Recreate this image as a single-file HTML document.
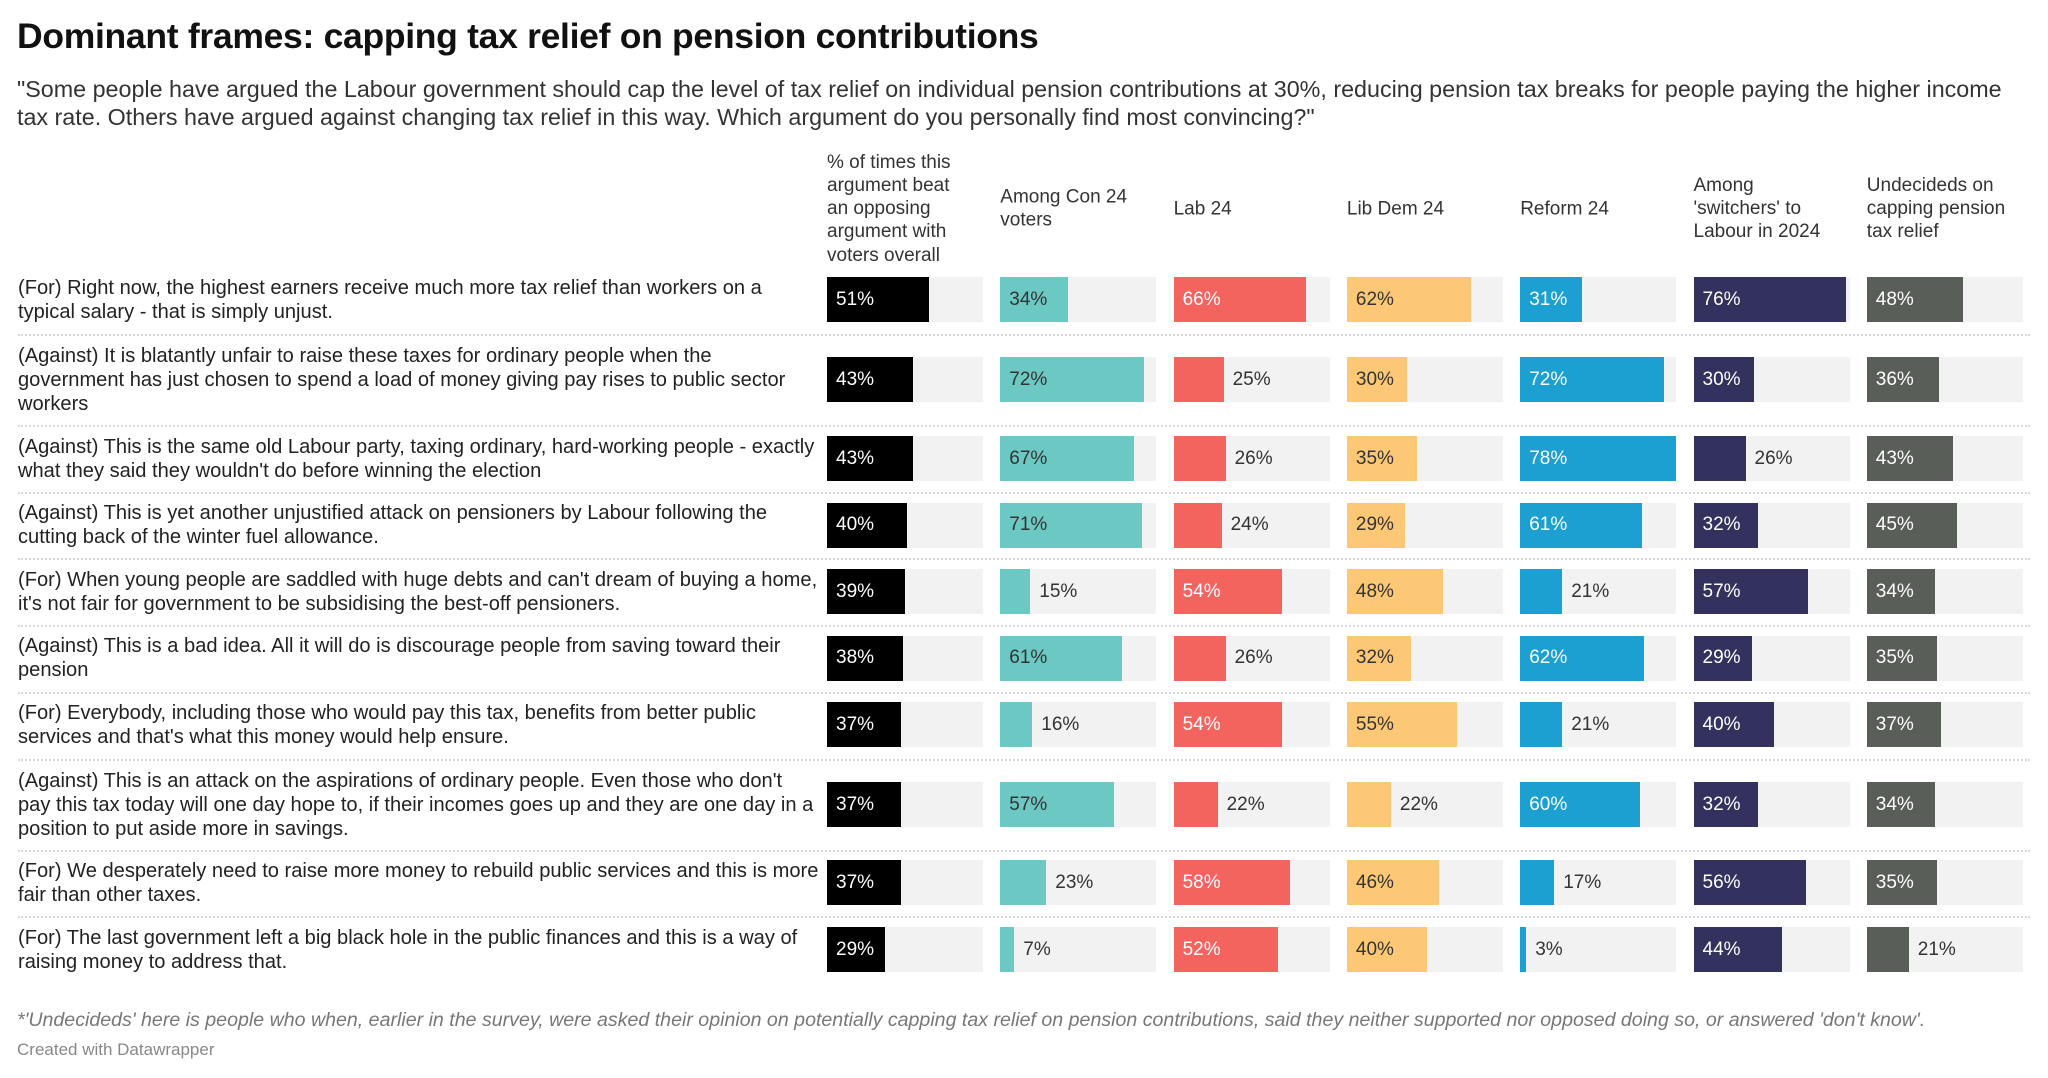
<!DOCTYPE html>
<html><head><meta charset="utf-8"><style>
body{margin:0;width:2048px;height:1078px;background:#fff;font-family:"Liberation Sans",Arial,sans-serif;color:#222;overflow:hidden;position:relative}
.abs{position:absolute}
#title{left:17px;top:16px;font-size:35.5px;font-weight:bold;color:#111;letter-spacing:-0.3px}
#sub{left:17px;top:76px;font-size:23.3px;line-height:27.5px;color:#333;width:2030px;white-space:nowrap}
.hdr{font-size:19px;line-height:23.3px;color:#333;width:170px;transform:translateY(-50%)}
.lbl{left:18px;width:810px;font-size:20.1px;line-height:24px;color:#222;transform:translateY(-50%)}
.sep{left:18px;width:2012px;height:0;border-top:2px dotted #d8d8d8}
.val{font-size:19px;transform:translateY(-50%);white-space:nowrap}
#note{left:17px;top:1009px;font-size:19.6px;font-style:italic;color:#777;white-space:nowrap}
#credit{left:17px;top:1040px;font-size:17px;color:#888}
</style></head><body>
<div id="title" class="abs">Dominant frames: capping tax relief on pension contributions</div>
<div id="sub" class="abs">"Some people have argued the Labour government should cap the level of tax relief on individual pension contributions at 30%, reducing pension tax breaks for people paying the higher income<br>tax rate. Others have argued against changing tax relief in this way. Which argument do you personally find most convincing?"</div>
<div id="chart"></div>
<div id="note" class="abs">*'Undecideds' here is people who when, earlier in the survey, were asked their opinion on potentially capping tax relief on pension contributions, said they neither supported nor opposed doing so, or answered 'don't know'.</div>
<div id="credit" class="abs">Created with Datawrapper</div>
<script>
const columns=["% of times this<br>argument beat<br>an opposing<br>argument with<br>voters overall","Among Con 24<br>voters","Lab 24","Lib Dem 24","Reform 24","Among<br>'switchers' to<br>Labour in 2024","Undecideds on<br>capping pension<br>tax relief"];
const rowLabels=[
"(For) Right now, the highest earners receive much more tax relief than workers on a<br>typical salary - that is simply unjust.",
"(Against) It is blatantly unfair to raise these taxes for ordinary people when the<br>government has just chosen to spend a load of money giving pay rises to public sector<br>workers",
"(Against) This is the same old Labour party, taxing ordinary, hard-working people - exactly<br>what they said they wouldn't do before winning the election",
"(Against) This is yet another unjustified attack on pensioners by Labour following the<br>cutting back of the winter fuel allowance.",
"(For) When young people are saddled with huge debts and can't dream of buying a home,<br>it's not fair for government to be subsidising the best-off pensioners.",
"(Against) This is a bad idea. All it will do is discourage people from saving toward their<br>pension",
"(For) Everybody, including those who would pay this tax, benefits from better public<br>services and that's what this money would help ensure.",
"(Against) This is an attack on the aspirations of ordinary people. Even those who don't<br>pay this tax today will one day hope to, if their incomes goes up and they are one day in a<br>position to put aside more in savings.",
"(For) We desperately need to raise more money to rebuild public services and this is more<br>fair than other taxes.",
"(For) The last government left a big black hole in the public finances and this is a way of<br>raising money to address that."];
const overall=[51,43,43,40,39,38,37,37,37,29];
const con24=[34,72,67,71,15,61,16,57,23,7];
const lab24=[66,25,26,24,54,26,54,22,58,52];
const libdem24=[62,30,35,29,48,32,55,22,46,40];
const reform24=[31,72,78,61,21,62,21,60,17,3];
const switchers=[76,30,26,32,57,29,40,32,56,44];
const undecided=[48,36,43,45,34,35,37,34,35,21];
const series=[overall,con24,lab24,libdem24,reform24,switchers,undecided];
const colors=["#000000","#6cc8c2","#f4645f","#fdc875","#1ba0d1","#33325e","#5a5e58"];
const textIn=["#fff","#333","#fff","#333","#fff","#fff","#fff"];
const seriesNames=["overall","con24","lab24","libdem24","reform24","switchers","undecided"];
const domainMax=78, trackW=156, colX0=827, colStep=173.3, barH=45;
const xScale=v=>v/domainMax*trackW;
const chart=document.getElementById('chart');
function mk(cls,css,html){const d=document.createElement('div');d.className='abs '+cls;Object.assign(d.style,css);if(html!==undefined)d.innerHTML=html;chart.appendChild(d);return d;}
columns.forEach((c,i)=>{const h=mk('hdr',{left:(colX0+i*colStep)+'px',top:'208.5px'},c);

});
// layout row centres (pixels)
const rowY=[299.5,379.8,458.6,525.1,591.6,658.2,724.8,804.6,882.8,949.6];
const halves=rowLabels.map(l=>Math.max(barH/2,l.split('<br>').length*12));
rowLabels.forEach((lab,r)=>{
 const y=rowY[r];
 const l=mk('lbl',{top:y+'px'},lab);
 
 
 series.forEach((s,i)=>{
  const x=colX0+i*colStep;const v=s[r];
  const t=mk('',{left:x+'px',top:(y-barH/2)+'px',width:trackW+'px',height:barH+'px',background:'#f2f2f2'});
  
  
  const b=mk('',{left:x+'px',top:(y-barH/2)+'px',width:xScale(v)+'px',height:barH+'px',background:colors[i]});
  
  
  const inside=v>=28;
  const tx=mk('val',{left:(inside?x+9:x+xScale(v)+9)+'px',top:y+'px',color:inside?textIn[i]:'#333'},v+'%');
  
  
 });
 if(r<rowLabels.length-1){
  const sy=(y+halves[r]+rowY[r+1]-halves[r+1])/2;
  const sp=mk('sep',{top:sy+'px'});
  
  
 }
});
</script>
</body></html>
